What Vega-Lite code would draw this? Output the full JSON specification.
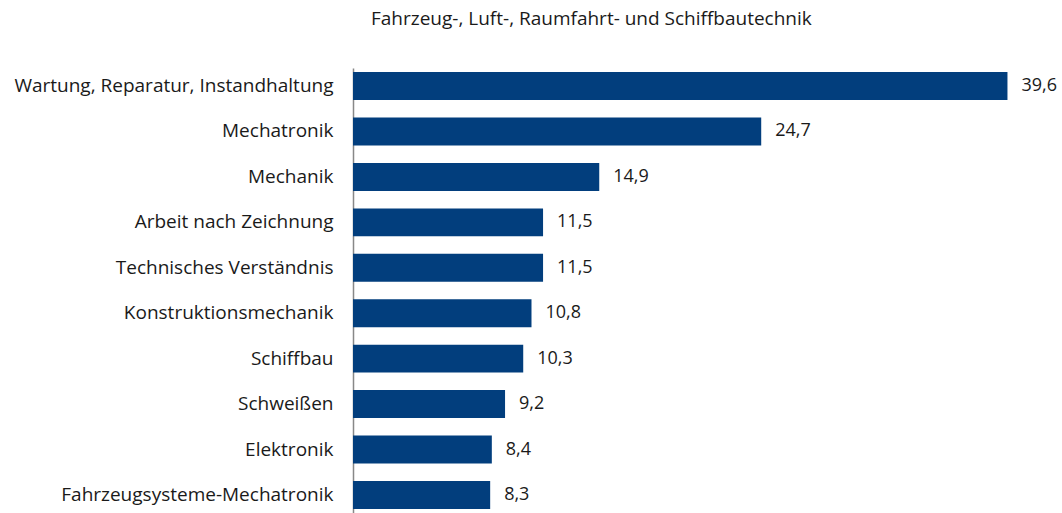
{
  "$schema": "https://vega.github.io/schema/vega-lite/v6.json",
  "autosize": "none",
  "width": 709,
  "height": 445,
  "padding": {"left": 353, "top": 68, "right": 0, "bottom": 0},
  "background": "white",
  "config": {
    "font": "Open Sans",
    "view": {"stroke": null},
    "locale": {"number": {"decimal": ",", "thousands": ".", "grouping": [3], "currency": ["", " €"]}}
  },
  "title": {
    "text": "Fahrzeug-, Luft-, Raumfahrt- und Schiffbautechnik",
    "anchor": "start",
    "frame": "group",
    "dx": 18,
    "offset": 30,
    "fontSize": 19,
    "fontWeight": "normal",
    "font": "Open Sans",
    "color": "#1a1a1a",
    "baseline": "middle"
  },
  "data": {"values": [
    {"cat": "Wartung, Reparatur, Instandhaltung", "v": 39.6},
    {"cat": "Mechatronik", "v": 24.7},
    {"cat": "Mechanik", "v": 14.9},
    {"cat": "Arbeit nach Zeichnung", "v": 11.5},
    {"cat": "Technisches Verständnis", "v": 11.5},
    {"cat": "Konstruktionsmechanik", "v": 10.8},
    {"cat": "Schiffbau", "v": 10.3},
    {"cat": "Schweißen", "v": 9.2},
    {"cat": "Elektronik", "v": 8.4},
    {"cat": "Fahrzeugsysteme-Mechatronik", "v": 8.3}
  ]},
  "encoding": {
    "y": {
      "field": "cat", "type": "nominal", "sort": null,
      "scale": {"paddingInner": 0.385, "paddingOuter": 0.09},
      "axis": {
        "title": null, "ticks": false, "labelPadding": 20,
        "labelFontSize": 19, "labelColor": "#1a1a1a", "labelFont": "Open Sans",
        "domainColor": "#888888", "domainWidth": 1.5, "labelLimit": 400
      }
    },
    "x": {
      "field": "v", "type": "quantitative",
      "scale": {"domain": [0, 42.9], "nice": false},
      "axis": null
    }
  },
  "layer": [
    {"mark": {"type": "bar", "color": "#023e7d"}},
    {"mark": {"type": "text", "align": "left", "dx": 14, "fontSize": 18, "color": "#1a1a1a", "font": "Open Sans"},
     "encoding": {"text": {"field": "v", "type": "quantitative", "format": ".1f"}}}
  ]
}
